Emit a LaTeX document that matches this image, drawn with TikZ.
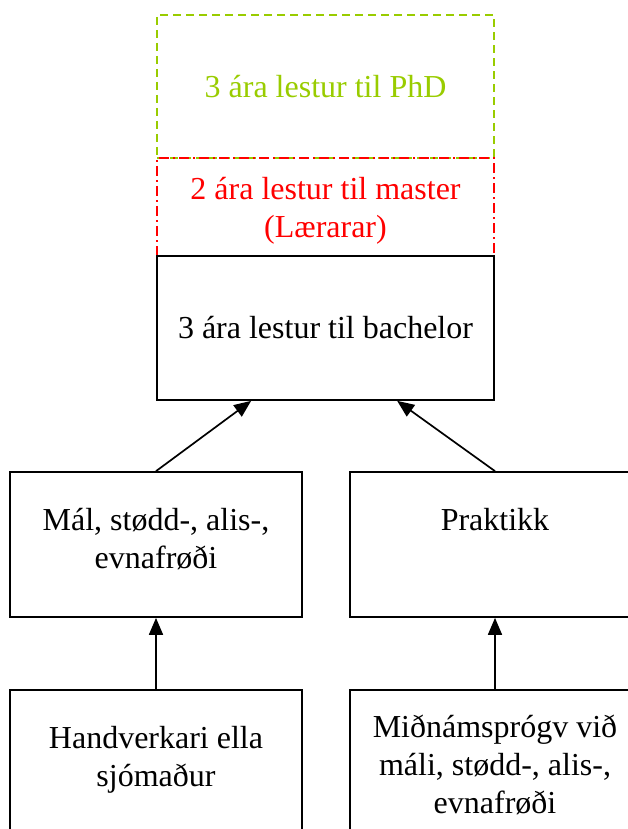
\documentclass[tikz,border=0pt]{standalone}
\usepackage{fontspec}
\setmainfont{Liberation Serif}
\usetikzlibrary{arrows.meta}
\definecolor{phdgreen}{RGB}{153,204,0}
\begin{document}
\begin{tikzpicture}[x=1pt,y=-1pt,
  txt/.style={align=center, inner sep=0pt, font=\fontsize{32}{38}\selectfont},
  box/.style={draw, line width=1.7pt, rectangle, txt},
  arr/.style={line width=1.7pt, -{Triangle[length=17pt,width=14pt]}}]
\useasboundingbox (0,0) rectangle (628,829);
\clip (0,0) rectangle (628,829);
% top column
\node[box, draw=phdgreen, text=phdgreen, dash pattern=on 8pt off 5pt,
  minimum width=337pt, minimum height=143pt] (phd) at (325.5,86.5) {3 ára lestur til PhD};
\node[box, draw=red, text=red, dash pattern=on 10pt off 4pt on 2pt off 4pt,
  minimum width=337pt, minimum height=98pt,
  label={[txt, text=red, yshift=-3.5pt]center:2 ára lestur til master\\(Lærarar)}] (master) at (325.5,207) {};
\node[box, minimum width=337pt, minimum height=144pt] (bach) at (325.5,328) {3 ára lestur til bachelor};
% middle row
\node[box, minimum width=292pt, minimum height=145pt,
  label={[txt, yshift=5.5pt]center:Mál, stødd-, alis-,\\evnafrøði}] (mal) at (156,544.5) {};
\node[box, minimum width=290pt, minimum height=145pt,
  label={[txt, yshift=24.5pt]center:Praktikk}] (prak) at (495,544.5) {};
% bottom row
\node[box, minimum width=292pt, minimum height=142pt,
  label={[txt, yshift=1pt]center:Handverkari ella\\sjómaður}] (hand) at (156,761) {};
\node[box, minimum width=290pt, minimum height=150pt] (mid) at (495,765) {Miðnámsprógv við\\máli, stødd-, alis-,\\evnafrøði};
% connectors
\draw[arr] (mal.north) -- ([xshift=95pt]bach.south west);
\draw[arr] (prak.north) -- ([xshift=241pt]bach.south west);
\draw[arr] (hand.north) -- (mal.south);
\draw[arr] (mid.north) -- (prak.south);
\end{tikzpicture}
\end{document}
